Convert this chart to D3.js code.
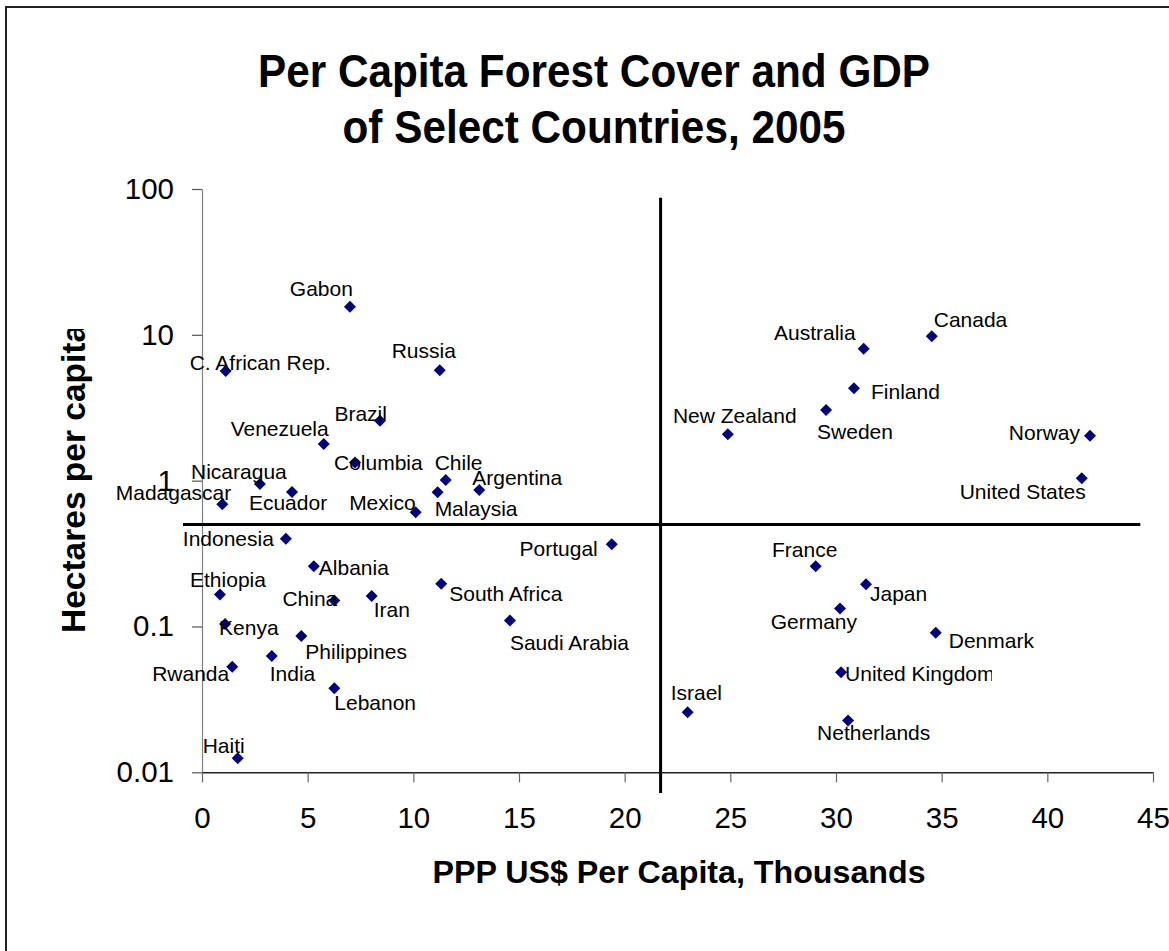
<!DOCTYPE html>
<html>
<head>
<meta charset="utf-8">
<script src="https://cdn.jsdelivr.net/npm/d3@7"></script>
<style>
  html, body { margin: 0; padding: 0; background: #fff; }
  svg { display: block; font-family: "Liberation Sans", Arial, sans-serif; }
</style>
</head>
<body>
<svg id="chart" width="1169" height="951"></svg>
<script>
// ---------- data ----------
const countries = ["Gabon","C. African Rep.","Russia","Brazil","Venezuela","Columbia","Chile","Nicaragua",
  "Ecuador","Argentina","Malaysia","Madagascar","Mexico","Indonesia","Albania","Ethiopia","China","Iran",
  "South Africa","Kenya","Philippines","India","Rwanda","Lebanon","Haiti","Portugal","Saudi Arabia",
  "Australia","Canada","Finland","Sweden","New Zealand","Norway","United States","France","Japan",
  "Germany","Denmark","United Kingdom","Israel","Netherlands"];
const gdpThousands = [7.0,1.12,11.25,8.42,5.76,7.24,11.53,2.74,
  4.26,13.12,11.15,0.96,10.11,3.97,5.29,0.85,6.26,8.03,
  11.32,1.09,4.70,3.30,1.43,6.26,1.69,19.39,14.57,
  31.31,34.53,30.85,29.53,24.88,42.02,41.63,29.04,31.42,
  30.19,34.72,30.24,22.98,30.57];
const forestHaPerCapita = [15.6,5.65,5.72,2.58,1.785,1.33,1.01,0.949,
  0.837,0.864,0.832,0.689,0.607,0.400,0.259,0.166,0.151,0.162,
  0.196,0.104,0.086,0.0628,0.053,0.0377,0.0125,0.366,0.110,
  8.04,9.78,4.30,3.05,2.08,2.03,1.04,0.259,0.195,
  0.133,0.0907,0.0485,0.0258,0.0227];
const xTicks = [0,5,10,15,20,25,30,35,40,45];
const yTicks = [0.01,0.1,1,10,100];
const yTickLabels = ["0.01","0.1","1","10","100"];
const titleLines = ["Per Capita Forest Cover and GDP","of Select Countries, 2005"];
const xTitle = "PPP US$ Per Capita, Thousands";
const yTitle = "Hectares per capita";
// quadrant divider lines (data units)
const dividerV = {x: 21.7, y0: 0.0072, y1: 87};
const dividerH = {y: 0.5, x0: -0.9, x1: 44.4};

// ---------- label placement (style) ----------
// [anchor, dx, dy] relative to marker centre (dy = baseline offset)
const labelPlacement = {
  "Gabon":["end",3,-11], "C. African Rep.":["start",-36,-1], "Russia":["middle",-16,-12],
  "Brazil":["end",7,0], "Venezuela":["end",5,-8], "Columbia":["start",-21,7],
  "Chile":["start",-11,-10], "Nicaragua":["middle",-21,-5], "Ecuador":["middle",-4,18],
  "Argentina":["start",-7,-5], "Malaysia":["start",-3,24], "Madagascar":["end",9,-4],
  "Mexico":["end",0,-2], "Indonesia":["end",-12,7], "Albania":["start",5,9],
  "Ethiopia":["middle",8,-7], "China":["end",3,6], "Iran":["start",2,21],
  "South Africa":["start",8,17], "Kenya":["start",-6,11], "Philippines":["start",4,23],
  "India":["start",-2,25], "Rwanda":["end",-3,14], "Lebanon":["start",0,22],
  "Haiti":["end",7,-5], "Portugal":["end",-14,12], "Saudi Arabia":["start",0,30],
  "Australia":["end",-8,-9], "Canada":["start",2,-9], "Finland":["start",17,11],
  "Sweden":["start",-9,29], "New Zealand":["middle",7,-11], "Norway":["end",-10,4],
  "United States":["end",4,21], "France":["middle",-11,-9], "Japan":["start",4,17],
  "Germany":["end",17,21], "Denmark":["start",13,15], "United Kingdom":["start",4,9],
  "Israel":["start",-17,-12], "Netherlands":["start",-31,20]
};

// ---------- drawing ----------
const svg = d3.select("#chart");
const W = 1169, H = 951;
svg.append("rect").attr("width", W).attr("height", H).attr("fill", "#fff");
svg.append("rect").attr("x", 6).attr("y", 7).attr("width", W + 40).attr("height", H + 40)
  .attr("fill", "none").attr("stroke", "#222").attr("stroke-width", 2);

const x = d3.scaleLinear().domain([0, 45]).range([202, 1153]);
const y = d3.scaleLog().domain([0.01, 100]).range([772.3, 189]);

const defs = svg.append("defs");
defs.append("clipPath").attr("id", "ytClip").append("rect")
  .attr("x", 0).attr("y", 329).attr("width", 200).attr("height", 600);
defs.append("clipPath").attr("id", "ukClip").append("rect")
  .attr("x", 0).attr("y", 0).attr("width", 992).attr("height", H);

// title
const tg = svg.append("g");
titleLines.forEach((t, i) => {
  tg.append("text")
    .attr("transform", `translate(594,${i === 0 ? 86.5 : 143}) scale(1,1.1)`)
    .attr("text-anchor", "middle").attr("font-weight", "bold").attr("font-size", 42.3)
    .attr("fill", "#000").text(t);
});

// y axis
const yAxis = d3.axisLeft(y).tickValues(yTicks).tickFormat((d, i) => yTickLabels[i])
  .tickSize(10).tickSizeOuter(0).tickPadding(18);
const yg = svg.append("g").attr("transform", "translate(202,0)").call(yAxis);
yg.select(".domain").attr("stroke", "#808080").attr("stroke-width", 1.2);
yg.selectAll(".tick line").attr("stroke", "#555").attr("stroke-width", 1.2);
yg.selectAll(".tick text").attr("font-size", 29.5).attr("fill", "#000")
  .attr("font-family", "Liberation Sans, Arial, sans-serif");

// x axis
const xAxis = d3.axisBottom(x).tickValues(xTicks).tickSize(10).tickSizeOuter(0);
const xg = svg.append("g").attr("transform", "translate(0,772.3)").call(xAxis);
xg.select(".domain").attr("stroke", "#222").attr("stroke-width", 1.5);
xg.selectAll(".tick line").attr("stroke", "#666").attr("stroke-width", 1.2);
xg.selectAll(".tick text").attr("font-size", 29.5).attr("fill", "#000")
  .attr("y", 56).attr("dy", 0)
  .attr("font-family", "Liberation Sans, Arial, sans-serif");

// axis titles
svg.append("text").attr("x", 679).attr("y", 883).attr("text-anchor", "middle")
  .attr("font-weight", "bold").attr("font-size", 32.2).text(xTitle);
svg.append("g").attr("clip-path", "url(#ytClip)")
  .append("text").attr("transform", "translate(85,633) rotate(-90)")
  .attr("text-anchor", "start").attr("font-weight", "bold").attr("font-size", 33.5).text(yTitle);

// divider lines
svg.append("line")
  .attr("x1", x(dividerV.x)).attr("x2", x(dividerV.x))
  .attr("y1", y(dividerV.y1)).attr("y2", y(dividerV.y0))
  .attr("stroke", "#000").attr("stroke-width", 3);
svg.append("line")
  .attr("x1", x(dividerH.x0)).attr("x2", x(dividerH.x1))
  .attr("y1", y(dividerH.y)).attr("y2", y(dividerH.y))
  .attr("stroke", "#000").attr("stroke-width", 3);

// points
const pts = countries.map((c, i) => ({name: c, gx: gdpThousands[i], fy: forestHaPerCapita[i]}));
const diamond = "M0,-6L6,0L0,6L-6,0Z";
svg.append("g").selectAll("path").data(pts).join("path")
  .attr("d", diamond)
  .attr("transform", d => `translate(${x(d.gx)},${y(d.fy)})`)
  .attr("fill", "#000080");

// labels
svg.append("g").selectAll("text").data(pts).join("text")
  .attr("x", d => x(d.gx) + labelPlacement[d.name][1])
  .attr("y", d => y(d.fy) + labelPlacement[d.name][2])
  .attr("text-anchor", d => labelPlacement[d.name][0])
  .attr("clip-path", d => d.name === "United Kingdom" ? "url(#ukClip)" : null)
  .attr("font-size", 21).attr("fill", "#000")
  .text(d => d.name);
</script>
</body>
</html>
